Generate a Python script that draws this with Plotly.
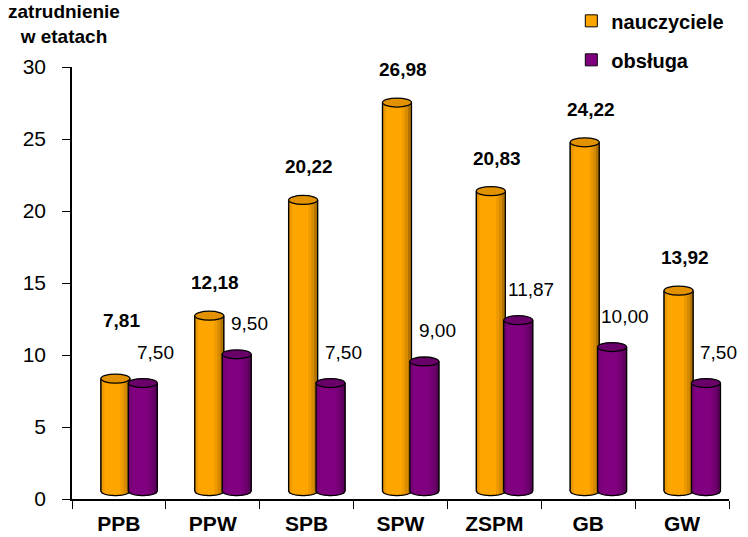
import numpy as np
import plotly.graph_objects as go

categories = ["PPB", "PPW", "SPB", "SPW", "ZSPM", "GB", "GW"]
nauczyciele = [7.81, 12.18, 20.22, 26.98, 20.83, 24.22, 13.92]
obsluga = [7.50, 9.50, 7.50, 9.00, 11.87, 10.00, 7.50]
y_tick_values = [0, 5, 10, 15, 20, 25, 30]

FONT = "Arial, 'Liberation Sans', sans-serif"
BAR_W = 0.309     # bar width in category units
BASE = 0.55       # 3D depth lift of the cylinders
CAP_B = 0.31      # half-height of the cylinder ellipses (y units)
Y_MAX = 30
PLOT_H = 432      # plot height in px (for label spacing rules)
PX_PER_UNIT = PLOT_H / Y_MAX

series = [
    dict(name="nauczyciele", values=nauczyciele, rgb=(255, 165, 0), cap="#E29200",
         offset=-0.192, bold=True, lab_dx=6, lab_dy=33),
    dict(name="obsługa", values=obsluga, rgb=(128, 0, 128), cap="#690069",
         offset=0.10, bold=False, lab_dx=13, lab_dy=31),
]


def rgb(c, f=1.0):
    return "rgb({},{},{})".format(*[int(round(v * f)) for v in c])


# shading bands across a cylinder (fraction from, fraction to, darkening factor)
BANDS = [(0.0, 0.05, 0.82), (0.05, 0.12, 0.93), (0.68, 0.78, 0.93),
         (0.78, 0.88, 0.84), (0.88, 1.0, 0.70)]

idx = np.arange(len(categories))
fig = go.Figure()
for s in series:
    fig.add_trace(go.Bar(
        x=idx, y=s["values"], base=BASE, offset=s["offset"], width=BAR_W,
        name=s["name"], legendgroup=s["name"],
        marker=dict(color=rgb(s["rgb"]), line=dict(color="black", width=1)),
        hovertemplate="%{y:.2f}<extra>" + s["name"] + "</extra>",
    ))


def arc_pts(xl, w, yb, f0, f1, n=12):
    out = []
    for f in np.linspace(f0, f1, n):
        c = 2 * f - 1
        out.append((xl + f * w, yb - CAP_B * np.sqrt(max(0.0, 1 - c * c))))
    return out


shapes = []
annotations = []
for i in idx:
    vo = nauczyciele[i]
    vp = obsluga[i]
    for s in series:
        v = s["values"][i]
        xl = i + s["offset"]
        xr = xl + BAR_W
        xc = (xl + xr) / 2
        yb = BASE
        yt = BASE + v
        body = arc_pts(xl, BAR_W, yb, 0, 1, 31)
        pts = " ".join(f"L {x:.4f},{y:.4f}" for x, y in body)
        silhouette = f"M {xl:.4f},{yt:.4f} L {xl:.4f},{yb:.4f} {pts} L {xr:.4f},{yt:.4f}"
        shapes.append(dict(type="path", path=silhouette + " Z", xref="x", yref="y",
                           fillcolor=rgb(s["rgb"]), line=dict(width=0), layer="above"))
        for f0, f1, fac in BANDS:
            seg = arc_pts(xl, BAR_W, yb, f0, f1)
            x0 = xl + f0 * BAR_W
            x1 = xl + f1 * BAR_W
            p = f"M {x0:.4f},{yt:.4f} " + " ".join(f"L {x:.4f},{y:.4f}" for x, y in seg) + f" L {x1:.4f},{yt:.4f} Z"
            shapes.append(dict(type="path", path=p, xref="x", yref="y",
                               fillcolor=rgb(s["rgb"], fac), line=dict(width=0), layer="above"))
        shapes.append(dict(type="path", path=silhouette, xref="x", yref="y",
                           fillcolor="rgba(0,0,0,0)", line=dict(color="black", width=1.3),
                           layer="above"))
        shapes.append(dict(type="circle", xref="x", yref="y",
                           x0=xl, x1=xr, y0=yt - CAP_B, y1=yt + CAP_B,
                           fillcolor=s["cap"], line=dict(color="black", width=1.3),
                           layer="above"))
        # label placement: fixed gap above cap, orange label kept clear of the purple one
        if s["bold"]:
            lab_p = vp * PX_PER_UNIT + series[1]["lab_dy"]
            lab_o = vo * PX_PER_UNIT + s["lab_dy"]
            dy = max(lab_o, lab_p + 32) - vo * PX_PER_UNIT
        else:
            dy = s["lab_dy"]
        txt = f"{v:.2f}".replace(".", ",")
        if s["bold"]:
            txt = f"<b>{txt}</b>"
        annotations.append(dict(x=xc, y=yt, xref="x", yref="y", text=txt,
                                showarrow=False, yshift=dy, xshift=s["lab_dx"],
                                font=dict(family=FONT, size=19, color="black")))

annotations.append(dict(xref="paper", yref="paper", x=-0.012, y=1.10,
                        text="<b>zatrudnienie<br>w etatach</b>", showarrow=False,
                        xanchor="center", yanchor="middle",
                        font=dict(family=FONT, size=19, color="black")))

fig.update_layout(
    width=748, height=537,
    margin=dict(l=72, r=19, t=67, b=38, autoexpand=False),
    paper_bgcolor="white", plot_bgcolor="white",
    barmode="overlay",
    font=dict(family=FONT, color="black"),
    showlegend=True,
    legend=dict(x=0.760, xanchor="left", y=1.152, yanchor="top",
                font=dict(family=FONT, size=20, color="black", weight="bold"),
                tracegroupgap=10, traceorder="grouped", bgcolor="rgba(0,0,0,0)",
                itemwidth=30),
    shapes=shapes, annotations=annotations,
    xaxis=dict(range=[-0.5, len(categories) - 0.5], tickmode="array",
               tickvals=idx, ticktext=[f"<b>{c}</b>" for c in categories],
               ticks="", showgrid=False, zeroline=False,
               showline=True, linecolor="black", linewidth=1.5,
               tickfont=dict(family=FONT, size=21, color="black"),
               ticklabelstandoff=5,
               minor=dict(tick0=-0.5, dtick=1, ticks="outside", ticklen=8,
                          tickcolor="black", tickwidth=1.2, showgrid=False)),
    yaxis=dict(range=[0, Y_MAX], tickmode="array", tickvals=y_tick_values,
               ticks="outside", ticklen=8, tickcolor="black", tickwidth=1.2,
               showgrid=False, zeroline=False,
               showline=True, linecolor="black", linewidth=1.5,
               tickfont=dict(family=FONT, size=21, color="black"),
               ticklabelstandoff=12),
)

fig.write_html("out.html", config={"displayModeBar": False},
               post_script="document.body.style.margin='0';document.body.style.overflow='hidden';")
